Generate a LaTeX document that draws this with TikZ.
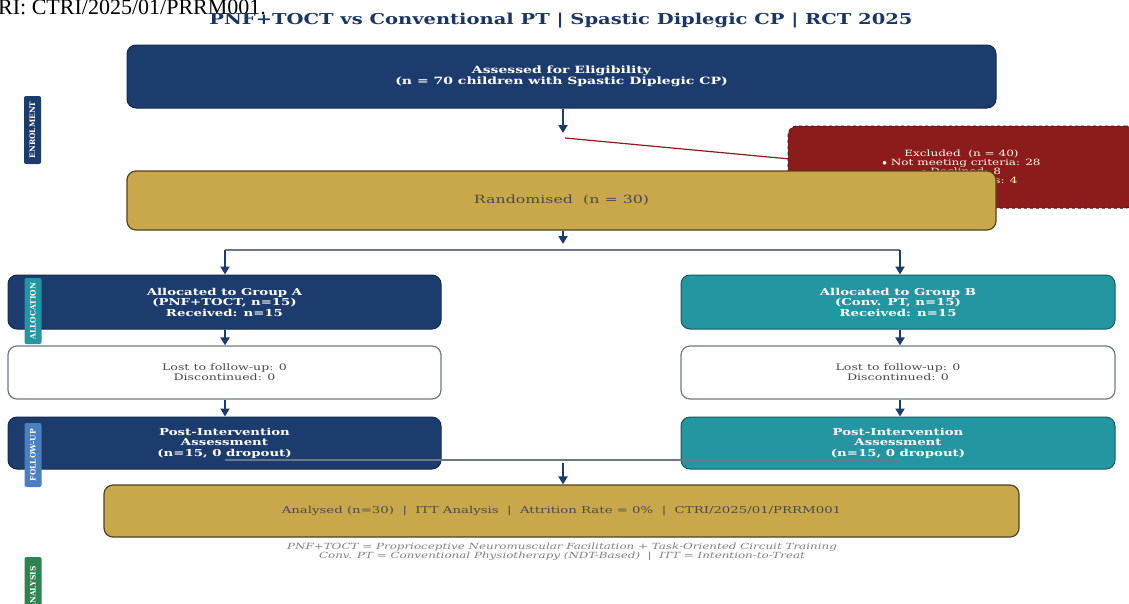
\documentclass[tikz,border=0pt]{standalone}
\usepackage{fontspec}
\setmainfont{DejaVu Serif}[FakeStretch=1.4]
\newfontfamily\docfont{Liberation Serif}
\newfontfamily\phasefont{DejaVu Serif}
\newfontfamily\titlefont{DejaVu Serif}[FakeStretch=1.3]
\usetikzlibrary{arrows.meta,positioning}
\definecolor{navy}{HTML}{1D3C6E}
\definecolor{grpteal}{HTML}{2396A1}
\definecolor{gold}{HTML}{C9A84C}
\definecolor{exred}{HTML}{8C1C1C}
\definecolor{linegray}{HTML}{6D7886}
\definecolor{txtgray}{HTML}{4A4A4A}
\definecolor{fublue}{HTML}{4C7FC0}
\definecolor{angreen}{HTML}{2E8450}
\begin{document}
\begin{tikzpicture}[x=1pt,y=-1pt,
 box/.style={rectangle,rounded corners=9pt,align=center,inner sep=2pt},
 navybox/.style={box,fill=navy,draw=navy!70!black,line width=1pt,text=white,font=\bfseries\fontsize{9.5}{10.5}\selectfont},
 tealbox/.style={navybox,fill=grpteal,draw=grpteal!60!black},
 goldbox/.style={box,fill=gold,draw=gold!40!black,line width=1.2pt,text=txtgray},
 lostbox/.style={box,fill=white,draw=linegray,line width=1.2pt,text=txtgray,font=\fontsize{9}{10}\selectfont},
 flow/.style={-{Triangle[length=8pt,width=9pt]},navy,line width=2.2pt},
 barline/.style={linegray,line width=2pt},
 phase/.style={rectangle,rounded corners=2pt,rotate=90,text=white,font=\phasefont\bfseries\fontsize{7.5}{8}\selectfont,inner sep=1.5pt,minimum height=17}]
\useasboundingbox (0,0) rectangle (1129,603);
\fill[white] (0,0) rectangle (1129,603);
% header
\node[anchor=base west,inner sep=0,font=\docfont\fontsize{22}{22}\selectfont] (ref) at (-2,14) {RI: CTRI/2025/01/PRRM001.};
\node[text=navy!90!black,font=\titlefont\bfseries\fontsize{15}{17}\selectfont] (title) at (561,21) {PNF+TOCT vs Conventional PT | Spastic Diplegic CP | RCT 2025};
% enrolment
\node[navybox,minimum width=869,minimum height=63,font=\bfseries\fontsize{10}{11}\selectfont] (assess) at (561.5,76.5) {Assessed for Eligibility\\(n = 70 children with Spastic Diplegic CP)};
\coordinate (below) at (563,133);
\coordinate (exsrc) at (565,138);
\draw[flow] (assess.south -| below) -- (below);
\draw[exred,line width=1.2pt] (exsrc) -- (790,159) coordinate (exend);
\node[box,fill=exred,draw=exred!60!black,dashed,line width=1pt,minimum width=347,minimum height=82,text=white!92!yellow,font=\fontsize{8.6}{9}\selectfont] (excl) at (961.5,167) {Excluded\ \ (n = 40)\\$\bullet$ Not meeting criteria: 28\\$\bullet$ Declined: 8\\\textcolor{yellow!30!white}{$\bullet$ Other reasons: 4}};
\node[goldbox,minimum width=869,minimum height=59,font=\fontsize{11.3}{13}\selectfont] (rand) at (561.5,200.5) {Randomised\ \ (n = 30)};
% allocation
\coordinate (split) at (563,244);
\coordinate (splitL) at (225,250);
\coordinate (splitR) at (900,250);
\draw[flow] (rand.south -| split) -- (split);
\draw[barline] (splitL) -- (splitR);
\node[navybox,minimum width=433,minimum height=54] (grpA) at (224.5,302) {Allocated to Group A\\(PNF+TOCT, n=15)\\Received: n=15};
\node[tealbox,minimum width=434,minimum height=54] (grpB) at (898,302) {Allocated to Group B\\(Conv. PT, n=15)\\Received: n=15};
\draw[flow] (splitL) -- (splitL |- grpA.north);
\draw[flow] (splitR) -- (splitR |- grpB.north);
\node[lostbox,minimum width=433,minimum height=53] (lostA) at (224.5,372.5) {Lost to follow-up: 0\\Discontinued: 0};
\node[lostbox,minimum width=434,minimum height=53] (lostB) at (898,372.5) {Lost to follow-up: 0\\Discontinued: 0};
\draw[flow] (grpA.south -| splitL) -- (lostA.north -| splitL);
\draw[flow] (grpB.south -| splitR) -- (lostB.north -| splitR);
% follow-up
\node[navybox,minimum width=433,minimum height=52] (postA) at (224.5,443) {Post-Intervention\\Assessment\\(n=15, 0 dropout)};
\node[tealbox,minimum width=434,minimum height=52] (postB) at (898,443) {Post-Intervention\\Assessment\\(n=15, 0 dropout)};
\draw[flow] (lostA.south -| splitL) -- (postA.north -| splitL);
\draw[flow] (lostB.south -| splitR) -- (postB.north -| splitR);
\coordinate (mergeL) at (225,460);
\coordinate (mergeR) at (900,460);
\coordinate (merge) at (563,463);
\draw[barline,line width=1.5pt] (mergeL) -- (mergeR);
% analysis
\node[goldbox,minimum width=915,minimum height=52,font=\fontsize{9.5}{11}\selectfont] (anal) at (561.5,511) {Analysed (n=30)\ \ |\ \ ITT Analysis\ \ |\ \ Attrition Rate = 0\%\ \ |\ \ CTRI/2025/01/PRRM001};
\draw[flow] (merge) -- (anal.north -| merge);
\node[text=gray,font=\itshape\fontsize{8.5}{9}\selectfont,align=center] (note) at (562,552) {PNF+TOCT = Proprioceptive Neuromuscular Facilitation + Task-Oriented Circuit Training\\Conv. PT = Conventional Physiotherapy (NDT-Based)\ \ |\ \ ITT = Intention-to-Treat};
% phase labels
\node[phase,fill=navy,minimum width=68] (enrol) at (32.5,130) {ENROLMENT};
\node[phase,fill=grpteal,minimum width=66] (alloc) at (33,311) {ALLOCATION};
\node[phase,fill=fublue,minimum width=64] (follow) at (33,455) {FOLLOW-UP};
\node[phase,fill=angreen,minimum width=62] (analy) at (33,588) {ANALYSIS};
\end{tikzpicture}
\end{document}
